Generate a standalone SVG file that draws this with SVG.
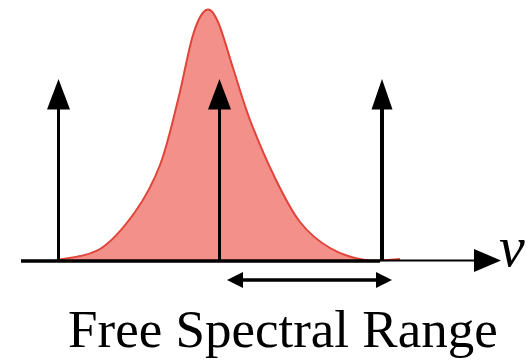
<svg xmlns="http://www.w3.org/2000/svg" width="531" height="360" viewBox="0 0 531 360">
<style>
.ln{stroke:#000;fill:none}
.hd{fill:#000;stroke:none}
</style>
<rect width="531" height="360" fill="#fff"/>
<g id="spectrum">
<path d="M58,260 C65,258.2 87.2,257 100,249 C112.8,241 125,226 135,212 C145,198 152.8,183.7 160,165 C167.2,146.3 172.5,121.7 178,100 C183.5,78.3 188.3,50 193,35 C197.7,20 201.8,12.2 206,10 C210.2,7.8 213.5,12.3 218,22 C222.5,31.7 227.7,51.7 233,68 C238.3,84.3 243,101.7 250,120 C257,138.3 266.7,161 275,178 C283.3,195 290.8,210.3 300,222 C309.2,233.7 319.2,241.7 330,248 C340.8,254.3 353.3,258.2 365,260 C376.7,261.8 394.2,259.2 400,259 L400,261 L58,261 Z" fill="#f4908a" stroke="none"/>
<path d="M58,260 C65,258.2 87.2,257 100,249 C112.8,241 125,226 135,212 C145,198 152.8,183.7 160,165 C167.2,146.3 172.5,121.7 178,100 C183.5,78.3 188.3,50 193,35 C197.7,20 201.8,12.2 206,10 C210.2,7.8 213.5,12.3 218,22 C222.5,31.7 227.7,51.7 233,68 C238.3,84.3 243,101.7 250,120 C257,138.3 266.7,161 275,178 C283.3,195 290.8,210.3 300,222 C309.2,233.7 319.2,241.7 330,248 C340.8,254.3 353.3,258.2 365,260 C376.7,261.8 394.2,259.2 400,259" fill="none" stroke="#e0443a" stroke-width="2"/>
</g>
<g id="axis">
<line class="ln" x1="21" y1="261" x2="380" y2="261" stroke-width="3.5"/>
<line class="ln" x1="380" y1="260.5" x2="476" y2="260.5" stroke-width="2"/>
<polygon class="hd" points="474,249 501,260.5 474,272"/>
<text x="499" y="266" font-family="Liberation Serif, serif" font-size="58" font-style="italic" fill="#000">ν</text>
</g>
<g id="connectors">
<line class="ln" x1="58.5" y1="261" x2="58.5" y2="106" stroke-width="3"/>
<polygon class="hd" points="47,109.5 58.5,79 70,109.5"/>
<line class="ln" x1="219.5" y1="261" x2="219.5" y2="106" stroke-width="3"/>
<polygon class="hd" points="208,109.5 219.5,79 231,109.5"/>
<line class="ln" x1="382" y1="261" x2="382" y2="106" stroke-width="4"/>
<polygon class="hd" points="371.5,109.5 382,79 392.5,109.5"/>
<line class="ln" x1="238" y1="280" x2="380" y2="280" stroke-width="3.5"/>
<polygon class="hd" points="227,280 243,272 243,288"/>
<polygon class="hd" points="392,280 376,272 376,288"/>
</g>
<g id="label">
<text x="68" y="347" font-family="Liberation Serif, serif" font-size="53" fill="#000">Free Spectral Range</text>
</g>
</svg>
